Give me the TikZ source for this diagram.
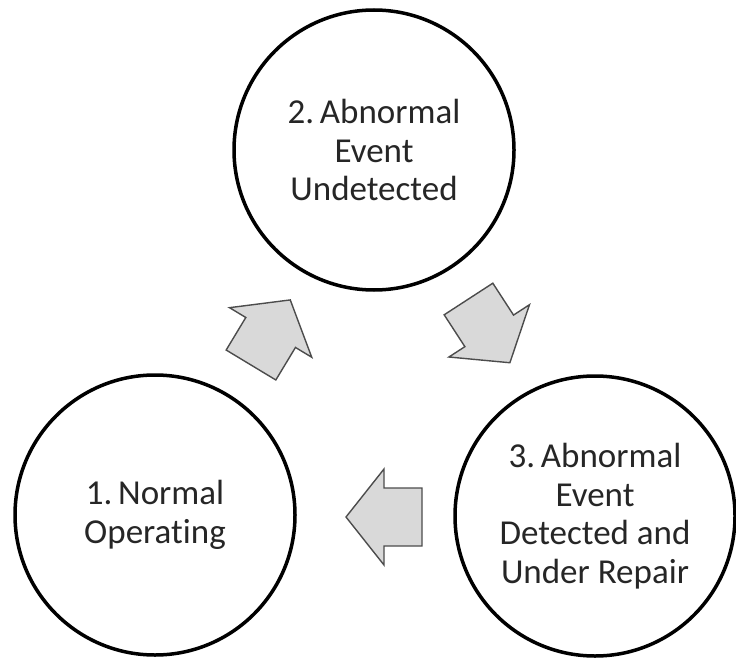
\documentclass[tikz,border=0pt]{standalone}
\usepackage{fontspec}
\setmainfont[Ligatures=NoCommon]{Carlito}
\begin{document}
\begin{tikzpicture}[x=1pt,y=-1pt,
  stage/.style={circle, draw=black, line width=3.5pt, minimum size=280pt, inner sep=0pt,
    align=center, text=black!85, font=\fontsize{35}{38.5}\selectfont},
  blockarrow/.style={fill=gray!30, draw=black!70, line width=1.4pt, line join=miter}]
\useasboundingbox (0,0) rectangle (736,658);
\node[stage] (c2) at (374,150) {2.\,Abnormal\\Event\\Undetected};
\node[stage] (c1) at (155,515) {1.\,Normal\\Operating};
\node[stage] (c3) at (595,516) {3.\,Abnormal\\Event\\Detected and\\Under Repair};
% block arrows (tail midpoint, direction)
\foreach \px/\py/\a in {251/365/58.9, 468.5/299/-57, 422/517/180}{
  \begin{scope}[shift={(\px,\py)}, rotate=\a]
    \draw[blockarrow] (0,-29) -- (38,-29) -- (38,-48) -- (76,0) -- (38,48) -- (38,29) -- (0,29) -- cycle;
  \end{scope}
}
\end{tikzpicture}
\end{document}
